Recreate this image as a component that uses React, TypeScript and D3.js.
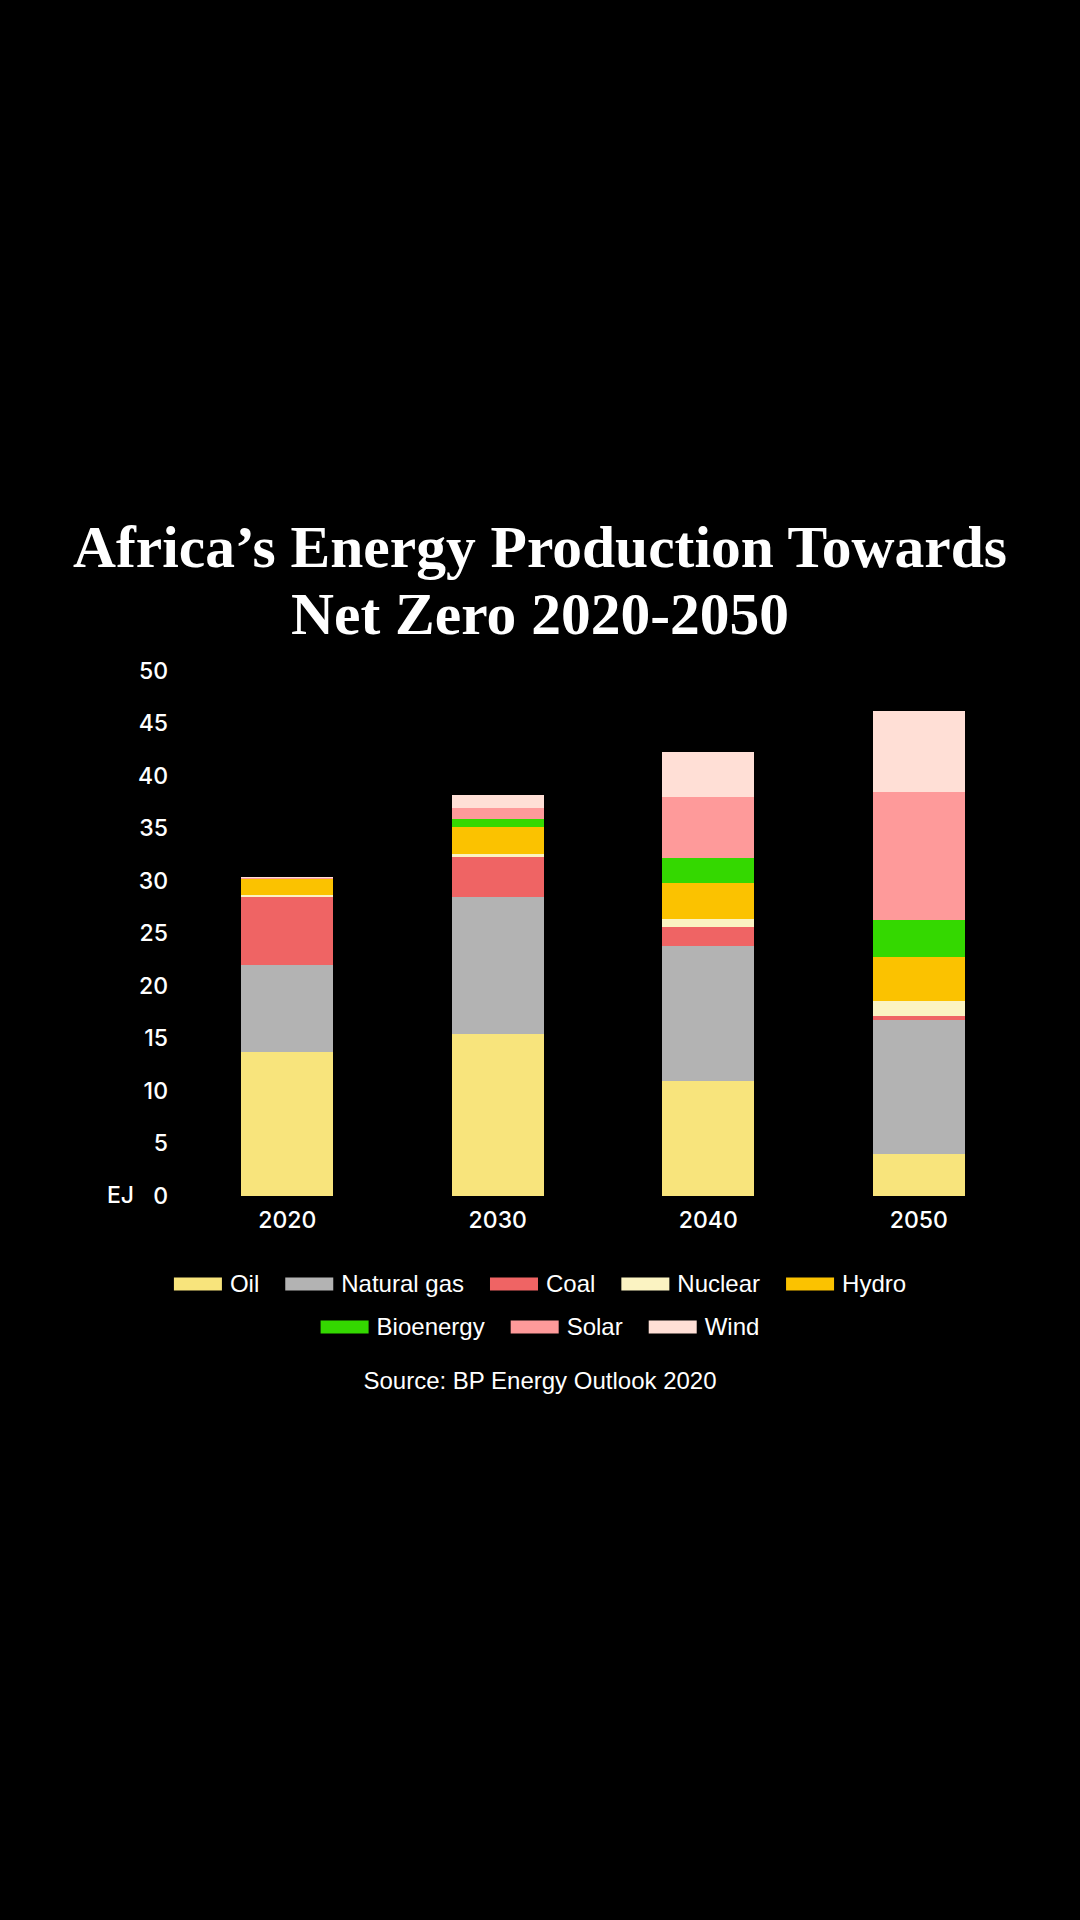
import React, { useEffect, useRef } from 'react';
import * as d3 from 'd3';

const years = ['2020', '2030', '2040', '2050'];
const sources = ['Oil', 'Natural gas', 'Coal', 'Nuclear', 'Hydro', 'Bioenergy', 'Solar', 'Wind'];
const sourceColors = ['#f8e47c', '#b3b3b3', '#ef6464', '#fbf3c2', '#fbc200', '#34d800', '#fe9a9a', '#ffdfd6'];

// EJ per year
const oil = [13.7, 15.4, 10.95, 4.0];
const naturalGas = [8.3, 13.05, 12.85, 12.8];
const coal = [6.5, 3.85, 1.8, 0.3];
const nuclear = [0.15, 0.3, 0.8, 1.5];
const hydro = [1.5, 2.5, 3.45, 4.2];
const bioenergy = [0.05, 0.8, 2.35, 3.5];
const solar = [0.1, 1.1, 5.8, 12.2];
const wind = [0.05, 1.2, 4.3, 7.7];

const yTicks = [0, 5, 10, 15, 20, 25, 30, 35, 40, 45, 50];
const legendRows = [
  ['Oil', 'Natural gas', 'Coal', 'Nuclear', 'Hydro'],
  ['Bioenergy', 'Solar', 'Wind'],
];

const W = 1080;
const H = 1920;
const sansAxis = 'Inter, "Liberation Sans", sans-serif';
const sansText = '"Liberation Sans", Arial, sans-serif';

export default function App() {
  const svgRef = useRef<SVGSVGElement>(null);

  useEffect(() => {
    document.body.style.margin = '0';
    document.body.style.background = '#000';
    if (!svgRef.current) return;

    const svg = d3.select(svgRef.current);
    svg.selectAll('*').remove();

    svg.append('rect').attr('width', W).attr('height', H).attr('fill', '#000');

    // Title
    const title = svg.append('text')
      .attr('text-anchor', 'middle')
      .attr('fill', '#fff')
      .attr('font-family', '"Liberation Serif", "Times New Roman", serif')
      .attr('font-weight', 700)
      .attr('font-size', 59.5)
      .style('font-variant-numeric', 'oldstyle-nums');
    title.append('tspan').attr('x', W / 2).attr('y', 567).text('Africa\u2019s Energy Production Towards');
    title.append('tspan').attr('x', W / 2).attr('y', 634).text('Net Zero 2020-2050');

    const series = [oil, naturalGas, coal, nuclear, hydro, bioenergy, solar, wind];
    const table = years.map((year, i) => {
      const row: any = { year };
      sources.forEach((s, k) => { row[s] = series[k][i]; });
      return row;
    });

    const x = d3.scaleBand<string>()
      .domain(years)
      .range([136, 1070])
      .paddingInner(0.563)
      .paddingOuter(0.5);

    const y = d3.scaleLinear().domain([0, 50]).range([1196, 671]);

    const color = d3.scaleOrdinal<string, string>().domain(sources).range(sourceColors);

    const stacked = d3.stack<any>().keys(sources)(table);

    const g = svg.append('g').attr('shape-rendering', 'crispEdges');
    stacked.forEach(layer => {
      g.append('g')
        .attr('fill', color(layer.key))
        .selectAll('rect')
        .data(layer)
        .enter().append('rect')
        .attr('x', d => x(d.data.year) || 0)
        .attr('width', x.bandwidth())
        .attr('y', d => y(d[1]))
        .attr('height', d => y(d[0]) - y(d[1]));
    });

    // Y axis labels
    const yAxis = svg.append('g')
      .attr('transform', 'translate(168,0)')
      .call(d3.axisLeft(y).tickValues(yTicks).tickSize(0).tickPadding(0));
    yAxis.select('.domain').remove();
    yAxis.selectAll('text')
      .attr('fill', '#fff')
      .attr('font-family', sansAxis)
      .attr('font-weight', 500)
      .attr('font-size', 23);

    svg.append('text')
      .attr('x', 107)
      .attr('y', y(0))
      .attr('dy', '0.32em')
      .attr('fill', '#fff')
      .attr('font-family', sansAxis)
      .attr('font-weight', 500)
      .attr('font-size', 23)
      .text('EJ');

    // X axis labels
    const xAxis = svg.append('g')
      .attr('transform', 'translate(0,1212)')
      .call(d3.axisBottom(x).tickSize(0).tickPadding(0));
    xAxis.select('.domain').remove();
    xAxis.selectAll('text')
      .attr('fill', '#fff')
      .attr('font-family', sansAxis)
      .attr('font-weight', 500)
      .attr('font-size', 23);

    // Legend
    const swW = 48;
    const swH = 13;
    const gapText = 8;
    const gapItem = 26;
    const fontSize = 24;
    const rowY = [1284, 1327];

    const measure = svg.append('text')
      .attr('font-family', sansText)
      .attr('font-size', fontSize)
      .attr('opacity', 0);

    legendRows.forEach((row, ri) => {
      const widths = row.map(name => {
        measure.text(name);
        return (measure.node() as SVGTextElement).getComputedTextLength();
      });
      const total = widths.reduce((a, w) => a + swW + gapText + w, 0) + gapItem * (row.length - 1);
      let cx = W / 2 - total / 2;
      row.forEach((name, k) => {
        svg.append('rect')
          .attr('x', cx)
          .attr('y', rowY[ri] - swH / 2)
          .attr('width', swW)
          .attr('height', swH)
          .attr('fill', color(name));
        svg.append('text')
          .attr('x', cx + swW + gapText)
          .attr('y', rowY[ri])
          .attr('dy', '0.35em')
          .attr('fill', '#fff')
          .attr('font-family', sansText)
          .attr('font-size', fontSize)
          .text(name);
        cx += swW + gapText + widths[k] + gapItem;
      });
    });
    measure.remove();

    svg.append('text')
      .attr('x', W / 2)
      .attr('y', 1381)
      .attr('dy', '0.35em')
      .attr('text-anchor', 'middle')
      .attr('fill', '#fff')
      .attr('font-family', sansText)
      .attr('font-size', fontSize)
      .text('Source: BP Energy Outlook 2020');
  }, []);

  return (
    <svg ref={svgRef} width={W} height={H} viewBox={`0 0 ${W} ${H}`} style={{ display: 'block' }} />
  );
}
